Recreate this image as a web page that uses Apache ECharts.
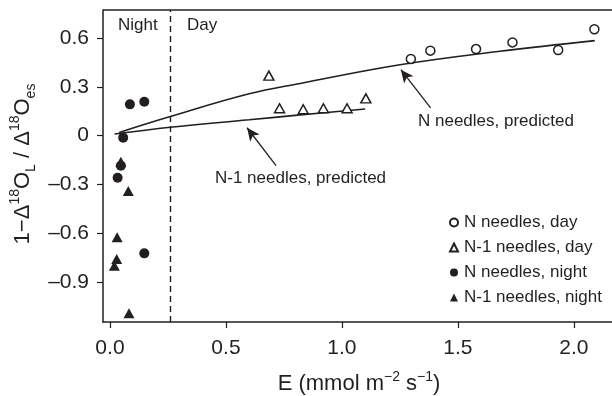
<!DOCTYPE html>
<html>
<head>
<meta charset="utf-8">
<script src="https://cdn.jsdelivr.net/npm/echarts@6/dist/echarts.min.js"></script>
<style>
html,body{margin:0;padding:0;background:#fff;}
#c{width:612px;height:396px;}
</style>
</head>
<body>
<div id="c"></div>
<script>
// ---- data ----
var nDayE   = [1.297, 1.381, 1.578, 1.735, 1.932, 2.088];
var nDayV   = [0.473, 0.524, 0.534, 0.575, 0.528, 0.656];
var n1DayE  = [0.685, 0.731, 0.833, 0.920, 1.022, 1.103];
var n1DayV  = [0.370, 0.169, 0.163, 0.169, 0.169, 0.230];
var nNightE = [0.086, 0.148, 0.057, 0.047, 0.033, 0.148];
var nNightV = [0.193, 0.209, -0.012, -0.185, -0.259, -0.725];
var n1NightE = [0.047, 0.079, 0.031, 0.029, 0.019, 0.082];
var n1NightV = [-0.160, -0.341, -0.626, -0.760, -0.801, -1.094];
var nPredE  = [0.04, 0.26, 0.60, 0.82, 1.25, 1.68, 2.09];
var nPredV  = [0.020, 0.118, 0.258, 0.322, 0.437, 0.520, 0.586];
var n1PredE = [0.02, 0.26, 0.60, 0.82, 1.10];
var n1PredV = [0.010, 0.052, 0.098, 0.128, 0.164];
var dayStartE = 0.262;
var xTicks = [0, 0.5, 1.0, 1.5, 2.0];
var yTicks = [-0.9, -0.6, -0.3, 0, 0.3, 0.6];
var arrowN  = [[1.382, 0.171], [1.254, 0.407]];
var arrowN1 = [[0.716, -0.185], [0.591, 0.049]];
var seriesNames = ['N needles, day', 'N-1 needles, day', 'N needles, night', 'N-1 needles, night'];

function pairs(a, b) { return a.map(function (v, i) { return [v, b[i]]; }); }

var ink = '#231f20';
var FONT = 'Liberation Sans, Arial, Helvetica, sans-serif';
var X_MIN = -0.030, X_MAX = 2.164, Y_MIN = -1.148, Y_MAX = 0.7745;

var chart = echarts.init(document.getElementById('c'), null, {renderer: 'canvas'});

var option = {
  animation: false,
  backgroundColor: '#fff',
  grid: {left: 103, top: 10, right: 0, bottom: 74, containLabel: false},
  xAxis: {
    type: 'value', min: X_MIN, max: X_MAX,
    axisLine: {show: true, onZero: false, lineStyle: {color: ink, width: 1.5}},
    axisTick: {show: true, inside: false, length: 6, customValues: xTicks, lineStyle: {color: ink, width: 1.2}},
    axisLabel: {customValues: xTicks, margin: 16, color: ink, fontSize: 21, fontFamily: FONT,
      formatter: function (v) { return v.toFixed(1); }},
    splitLine: {show: false}
  },
  yAxis: {
    type: 'value', min: Y_MIN, max: Y_MAX,
    axisLine: {show: true, onZero: false, lineStyle: {color: ink, width: 1.5}},
    axisTick: {show: true, inside: false, length: 6, customValues: yTicks, lineStyle: {color: ink, width: 1.2}},
    axisLabel: {customValues: yTicks, margin: 14, color: ink, fontSize: 21, fontFamily: FONT,
      formatter: function (v) { return v === 0 ? '0' : v.toFixed(1).replace('-', '\u2013'); }},
    splitLine: {show: false}
  },
  legend: {
    data: seriesNames,
    orient: 'vertical',
    left: 449, top: 214,
    itemWidth: 8, itemHeight: 8, itemGap: 8,
    textStyle: {color: ink, fontSize: 17, fontFamily: FONT, padding: [0, 0, 0, 1]},
    padding: 0
  },
  series: [
    {
      name: 'N predicted', type: 'line', data: pairs(nPredE, nPredV), smooth: 0.4,
      showSymbol: false, symbol: 'none', lineStyle: {color: ink, width: 1.6}, z: 2,
      markLine: {
        silent: true, symbol: ['none', 'arrow'], symbolSize: [9, 13],
        lineStyle: {color: ink, width: 1.3, type: 'solid'}, label: {show: false},
        data: [
          [{coord: arrowN[0]}, {coord: arrowN[1]}],
          [{coord: arrowN1[0]}, {coord: arrowN1[1]}],
          [{coord: [dayStartE, Y_MIN], symbol: 'none', lineStyle: {type: [6, 4], width: 1.4}},
           {coord: [dayStartE, Y_MAX], symbol: 'none'}],
          [{coord: [X_MIN, Y_MAX], symbol: 'none', lineStyle: {width: 1.5}},
           {coord: [X_MAX, Y_MAX], symbol: 'none'}]
        ]
      }
    },
    {
      name: 'N-1 predicted', type: 'line', data: pairs(n1PredE, n1PredV), smooth: 0.4,
      showSymbol: false, symbol: 'none', lineStyle: {color: ink, width: 1.6}, z: 2
    },
    {
      name: seriesNames[0], type: 'scatter', data: pairs(nDayE, nDayV), symbol: 'circle', symbolSize: 9,
      itemStyle: {color: '#fff', borderColor: ink, borderWidth: 1.5, opacity: 1}, z: 3
    },
    {
      name: seriesNames[1], type: 'scatter', data: pairs(n1DayE, n1DayV), symbol: 'triangle', symbolSize: [10, 9],
      itemStyle: {color: '#fff', borderColor: ink, borderWidth: 1.5, opacity: 1}, z: 3
    },
    {
      name: seriesNames[2], type: 'scatter', data: pairs(nNightE, nNightV), symbol: 'circle', symbolSize: 10,
      itemStyle: {color: ink, opacity: 1}, z: 3
    },
    {
      name: seriesNames[3], type: 'scatter', data: pairs(n1NightE, n1NightV), symbol: 'triangle', symbolSize: [11, 10],
      itemStyle: {color: ink, opacity: 1}, z: 3
    }
  ],
  graphic: [
    {type: 'text', left: 118, top: 17, style: {text: 'Night', fill: ink, font: '17px ' + FONT}},
    {type: 'text', left: 187, top: 17, style: {text: 'Day', fill: ink, font: '17px ' + FONT}},
    {type: 'text', left: 418, top: 113, style: {text: 'N needles, predicted', fill: ink, font: '17px ' + FONT}},
    {type: 'text', left: 215, top: 170, style: {text: 'N-1 needles, predicted', fill: ink, font: '17px ' + FONT}},
    {
      type: 'text', x: 359, y: 384,
      style: {
        text: '{m|E (mmol m}{s|\u22122}{m| s}{s|\u22121}{m|)}',
        align: 'center', verticalAlign: 'middle', fill: ink,
        rich: {
          m: {fontSize: 22, fontFamily: FONT, color: ink, lineHeight: 28},
          s: {fontSize: 14, fontFamily: FONT, color: ink, lineHeight: 14, verticalAlign: 'top'}
        }
      }
    },
    {
      type: 'text', x: 23, y: 164, rotation: Math.PI / 2,
      style: {
        text: '{m|1\u2212\u0394}{s|18}{m|O}{b|L}{m| / \u0394}{s|18}{m|O}{b|es}',
        align: 'center', verticalAlign: 'middle', fill: ink,
        rich: {
          m: {fontSize: 22, fontFamily: FONT, color: ink, lineHeight: 30},
          s: {fontSize: 14, fontFamily: FONT, color: ink, lineHeight: 14, verticalAlign: 'top'},
          b: {fontSize: 14, fontFamily: FONT, color: ink, lineHeight: 14, verticalAlign: 'bottom'}
        }
      }
    }
  ]
};
chart.setOption(option);
</script>
</body>
</html>
